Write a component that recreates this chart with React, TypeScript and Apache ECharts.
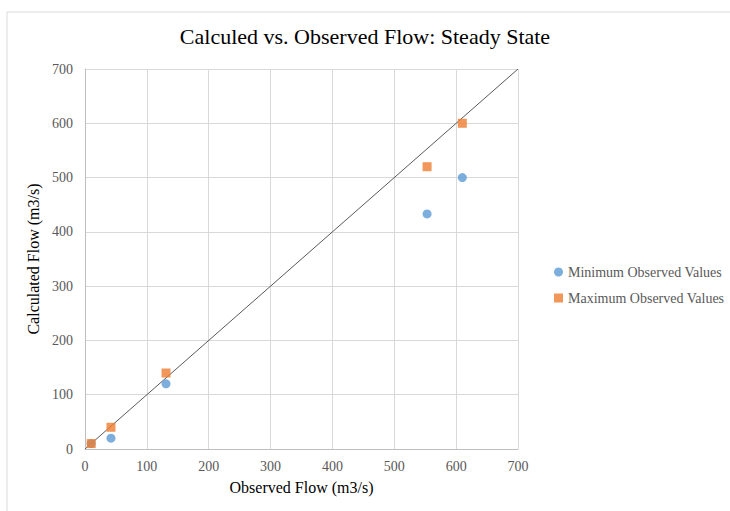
import React, { useEffect, useRef } from "react";
import * as echarts from "echarts";

const observedX = [10, 42, 131, 553, 610];
const minCalculated = [10, 20, 120, 433, 500];
const maxCalculated = [10, 40, 140, 520, 600];
const lineX = [0, 700];
const seriesNames = ["Minimum Observed Values", "Maximum Observed Values"];

export default function App() {
  const ref = useRef<HTMLDivElement>(null);
  useEffect(() => {
    document.body.style.margin = "0";
    const chart = echarts.init(ref.current!, null, { renderer: "svg" });
    const font = "'Liberation Serif', 'Times New Roman', serif";
    chart.setOption({
      animation: false,
      backgroundColor: "#ffffff",
      textStyle: { fontFamily: font },
      title: {
        text: "Calculed vs. Observed Flow: Steady State",
        left: "center",
        top: 20,
        textStyle: { fontFamily: font, fontSize: 22, fontWeight: "normal", color: "#000000" },
      },
      graphic: [
        {
          type: "rect",
          shape: { x: 7, y: 12, width: 740, height: 520 },
          style: { fill: "none", stroke: "#d9d9d9", lineWidth: 1 },
          silent: true,
        },
      ],
      grid: { left: 85, right: 212, top: 69, bottom: 62 },
      xAxis: {
        type: "value",
        min: 0,
        max: 700,
        interval: 100,
        name: "Observed Flow (m3/s)",
        nameLocation: "middle",
        nameGap: 30,
        nameTextStyle: { fontFamily: font, fontSize: 16, color: "#000000" },
        axisLine: { show: true, lineStyle: { color: "#bfbfbf" } },
        axisTick: { show: false },
        axisLabel: { fontFamily: font, fontSize: 14, color: "#595959", margin: 10 },
        splitLine: { show: true, lineStyle: { color: "#d9d9d9" } },
      },
      yAxis: {
        type: "value",
        min: 0,
        max: 700,
        interval: 100,
        name: "Calculated Flow (m3/s)",
        nameLocation: "middle",
        nameGap: 35,
        nameTextStyle: { fontFamily: font, fontSize: 16, color: "#000000" },
        axisLine: { show: true, lineStyle: { color: "#bfbfbf" } },
        axisTick: { show: false },
        axisLabel: { fontFamily: font, fontSize: 14, color: "#595959", margin: 12 },
        splitLine: { show: true, lineStyle: { color: "#d9d9d9" } },
      },
      legend: {
        orient: "vertical",
        left: 549,
        top: 260,
        itemGap: 12,
        itemWidth: 9,
        itemHeight: 9,
        textStyle: { fontFamily: font, fontSize: 14, color: "#595959" },
        data: [
          { name: seriesNames[0], icon: "circle" },
          { name: seriesNames[1], icon: "rect" },
        ],
      },
      series: [
        {
          type: "line",
          data: lineX.map((v) => [v, v]),
          symbol: "none",
          lineStyle: { color: "#595959", width: 1 },
          silent: true,
          z: 1,
        },
        {
          name: seriesNames[0],
          type: "scatter",
          symbol: "circle",
          symbolSize: 9,
          itemStyle: { color: "#5b9bd5" },
          data: observedX.map((x, i) => [x, minCalculated[i]]),
          z: 2,
        },
        {
          name: seriesNames[1],
          type: "scatter",
          symbol: "rect",
          symbolSize: 9,
          itemStyle: { color: "#ed7d31" },
          data: observedX.map((x, i) => [x, maxCalculated[i]]),
          z: 3,
        },
      ],
    });
    return () => chart.dispose();
  }, []);
  return <div ref={ref} style={{ width: 730, height: 511 }} />;
}
